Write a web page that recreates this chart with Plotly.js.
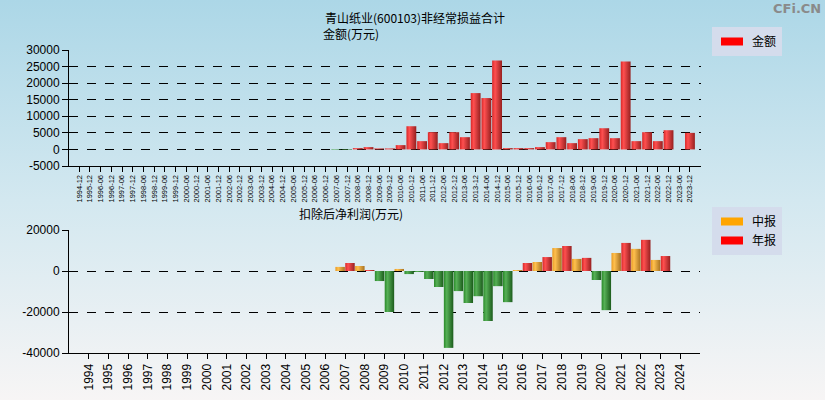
<!DOCTYPE html>
<html>
<head>
<meta charset="utf-8">
<script src="https://cdn.plot.ly/plotly-3.0.1.min.js"></script>
<style>
html, body { margin: 0; padding: 0; }
body { width: 825px; height: 400px; background: linear-gradient(to bottom, #acd7e7 0%, #d3e8f0 50%, #f7f5f5 100%); }
#chart { width: 825px; height: 400px; }
</style>
</head>
<body>
<div id="chart"></div>
<script>
// ---- Data ----
var periods = ["1994-12","1995-12","1996-06","1996-12","1997-06","1997-12","1998-06","1998-12","1999-06","1999-12",
  "2000-06","2000-12","2001-06","2001-12","2002-06","2002-12","2003-06","2003-12","2004-06","2004-12",
  "2005-06","2005-12","2006-06","2006-12","2007-06","2007-12","2008-06","2008-12","2009-06","2009-12",
  "2010-06","2010-12","2011-06","2011-12","2012-06","2012-12","2013-06","2013-12","2014-06","2014-12",
  "2015-06","2015-12","2016-06","2016-12","2017-06","2017-12","2018-06","2018-12","2019-06","2019-12",
  "2020-06","2020-12","2021-06","2021-12","2022-06","2022-12","2023-06","2023-12"];
var nonRecurring = [null,null,null,null,null,null,null,null,null,null,
  null,null,null,null,null,null,null,null,null,null,
  null,null,null,null,-150,-150,400,700,300,300,
  1300,7000,2500,5200,1900,5200,3700,17000,15500,26800,
  400,400,400,700,2200,3700,1900,3100,3400,6400,
  3400,26500,2500,5200,2500,5800,null,5000];

var yearLabels = [1994,1995,1996,1997,1998,1999,2000,2001,2002,2003,2004,2005,2006,2007,2008,2009,2010,
  2011,2012,2013,2014,2015,2016,2017,2018,2019,2020,2021,2022,2023,2024];
var profitYears = [2007,2008,2009,2010,2011,2012,2013,2014,2015,2016,2017,2018,2019,2020,2021,2022,2023];
var midReport = [2000,2450,-4900,1000,-500,-7800,-9800,-12300,-7400,500,4400,11200,5900,-4400,8800,10800,5400];
var annualReport = [3900,500,-20000,-1500,-3900,-37500,-15600,-24400,-15200,3900,6800,12200,6400,-19100,13700,15200,7300];

// ---- Styles ----
var RED = '#ff0000', ORANGE = '#ffa500', GREEN = '#2e8b2e';
var numFont = {family: 'Liberation Sans, Arial, sans-serif', size: 12, color: '#000'};
var cjk = 'Liberation Sans Narrow, Noto Sans CJK SC, sans-serif';

function posPart(a){ return a.map(function(v){ return (v !== null && v >= 0) ? v : null; }); }
function negPart(a){ return a.map(function(v){ return (v !== null && v < 0) ? v : null; }); }
var midX = profitYears.map(function(y){ return y - 0.25; });
var annX = profitYears.map(function(y){ return y + 0.25; });

var traces = [
  {type:'bar', x: periods, y: posPart(nonRecurring), name:'金额', marker:{color:RED}, width:0.92,
   xaxis:'x', yaxis:'y', legend:'legend', hoverinfo:'x+y'},
  {type:'bar', x: periods, y: negPart(nonRecurring), name:'金额', marker:{color:GREEN}, width:0.92,
   xaxis:'x', yaxis:'y', showlegend:false, hoverinfo:'x+y'},
  {type:'bar', x: midX, y: posPart(midReport), name:'中报', marker:{color:ORANGE}, width:0.48,
   xaxis:'x2', yaxis:'y2', legend:'legend2'},
  {type:'bar', x: annX, y: posPart(annualReport), name:'年报', marker:{color:RED}, width:0.48,
   xaxis:'x2', yaxis:'y2', legend:'legend2'},
  {type:'bar', x: midX, y: negPart(midReport), name:'中报', marker:{color:GREEN}, width:0.48,
   xaxis:'x2', yaxis:'y2', showlegend:false},
  {type:'bar', x: annX, y: negPart(annualReport), name:'年报', marker:{color:GREEN}, width:0.48,
   xaxis:'x2', yaxis:'y2', showlegend:false}
];

var W = 825, H = 400;
function px(x){ return x / W; }
function py(y){ return 1 - y / H; }

var axCommon = {showline:true, linecolor:'#000', linewidth:1, ticks:'outside', ticklen:6, tickcolor:'#000',
  tickwidth:1, fixedrange:true};

var layout = {
  width: W, height: H,
  margin: {l:0, r:0, t:0, b:0},
  paper_bgcolor: 'rgba(0,0,0,0)', plot_bgcolor: 'rgba(0,0,0,0)',
  barmode: 'overlay',
  showlegend: true,
  xaxis: Object.assign({}, axCommon, {domain:[px(69), px(701)], anchor:'y', type:'category',
    range:[-0.95, 58.03], tickangle:-90, tickmode:'linear', dtick:1, ticklen:5,
    tickfont:{family:'Liberation Sans, Arial, sans-serif', size:7.5, color:'#000'}, showgrid:false}),
  yaxis: Object.assign({}, axCommon, {domain:[py(166), py(50)], anchor:'x', range:[-5000, 30000],
    tickvals:[-5000,0,5000,10000,15000,20000,25000,30000], ticktext:['-5000','0','5000','10000','15000','20000','25000','30000'],
    tickfont:numFont, showgrid:true, gridcolor:'#000', griddash:'dash', gridwidth:1, zeroline:false}),
  xaxis2: Object.assign({}, axCommon, {domain:[px(69), px(700)], anchor:'y2', range:[1993, 2025],
    tickvals: yearLabels, ticktext: yearLabels.map(String), tickangle:-90, ticklen:5,
    tickfont:{family:'Liberation Sans, Arial, sans-serif', size:12, color:'#000'}, showgrid:false, zeroline:false}),
  yaxis2: Object.assign({}, axCommon, {domain:[py(353), py(230)], anchor:'x2', range:[-40000, 20000],
    tickvals:[-40000,-20000,0,20000], ticktext:['-40000','-20000','0','20000'],
    tickfont:numFont, showgrid:true, gridcolor:'#000', griddash:'dash', gridwidth:1, zeroline:false}),
  legend: {x: px(712), y: py(27), xanchor:'left', yanchor:'top', bgcolor:'#d4dcec', borderwidth:0,
    font:{family:'Noto Sans CJK SC, sans-serif', size:12, color:'#000'}, itemclick:false, itemdoubleclick:false},
  legend2: {x: px(712), y: py(207), xanchor:'left', yanchor:'top', bgcolor:'#d4dcec', borderwidth:0,
    font:{family:'Noto Sans CJK SC, sans-serif', size:12, color:'#000'}, tracegroupgap:0, itemclick:false, itemdoubleclick:false},
  annotations: [
    {text:'青山纸业(600103)非经常损益合计', xref:'paper', yref:'paper', x:px(323), y:py(17.5), xanchor:'left', yanchor:'middle',
     showarrow:false, font:{family:cjk, size:12, color:'#000'}},
    {text:'金额(万元)', xref:'paper', yref:'paper', x:px(321), y:py(33.5), xanchor:'left', yanchor:'middle',
     showarrow:false, font:{family:cjk, size:12, color:'#000'}},
    {text:'扣除后净利润(万元)', xref:'paper', yref:'paper', x:px(297), y:py(213), xanchor:'left', yanchor:'middle',
     showarrow:false, font:{family:cjk, size:12, color:'#000'}},
    {text:'<b>CFi.CN</b>', xref:'paper', yref:'paper', x:px(823), y:py(9), xanchor:'right', yanchor:'middle',
     showarrow:false, font:{family:'DejaVu Sans, sans-serif', size:13, color:'#8a8a8a'}}
  ]
};

Plotly.newPlot('chart', traces, layout, {displayModeBar:false, staticPlot:true}).then(function(gd){
  // add horizontal gradients to bars for a shaded look
  var svg = gd.querySelector('svg.main-svg');
  var defs = svg.querySelector('defs');
  var NS = 'http://www.w3.org/2000/svg';
  var grads = {
    'rgb(255, 0, 0)': ['gRed', [['0%','#d82828'],['30%','#ff5050'],['100%','#962020']]],
    'rgb(255, 165, 0)': ['gOrange', [['0%','#e89a22'],['30%','#ffc04e'],['100%','#a87222']]],
    'rgb(46, 139, 46)': ['gGreen', [['0%','#2a8a2a'],['30%','#56b056'],['100%','#1c5c1c']]]
  };
  Object.keys(grads).forEach(function(k){
    var g = document.createElementNS(NS, 'linearGradient');
    g.setAttribute('id', grads[k][0]);
    g.setAttribute('x1','0'); g.setAttribute('x2','1'); g.setAttribute('y1','0'); g.setAttribute('y2','0');
    grads[k][1].forEach(function(s){
      var st = document.createElementNS(NS, 'stop');
      st.setAttribute('offset', s[0]); st.setAttribute('stop-color', s[1]);
      g.appendChild(st);
    });
    defs.appendChild(g);
  });
  gd.querySelectorAll('.barlayer .point path').forEach(function(p){
    var f = p.style.fill;
    if (grads[f]) p.style.fill = 'url(#' + grads[f][0] + ')';
  });
  // wide rectangular legend swatches like the original (all legends)
  gd.querySelectorAll('.legendpoints path').forEach(function(p){
    p.setAttribute('d', 'M-11,-4H11V4H-11Z');
    p.style.strokeWidth = '0';
  });
});
</script>
</body>
</html>
